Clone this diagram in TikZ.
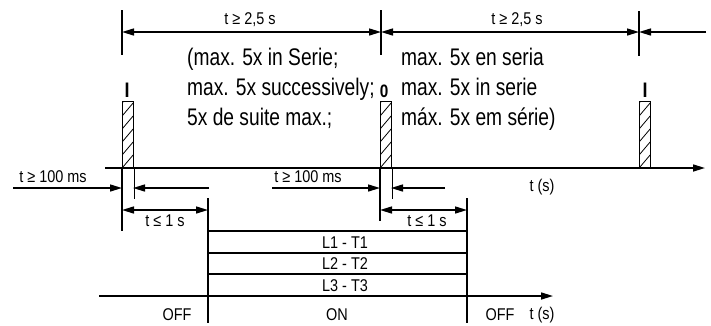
\documentclass[tikz,border=0pt]{standalone}
\usepackage{fontspec}
\setmainfont{Liberation Sans}[FakeStretch=0.8]
\newfontfamily\smallfont{Liberation Sans}[FakeStretch=0.85]
\usetikzlibrary{arrows.meta}
\tikzset{
  ln/.style={line width=1.6pt},
  tip/.tip={Triangle[length=12pt,width=7pt]},
  dimline/.style={line width=1.5pt,tip-tip},
  toarrow/.style={line width=1.5pt,-tip},
  small/.style={font=\smallfont\fontsize{17}{19}\selectfont, inner sep=0pt},
  big/.style={font=\fontsize{24}{30}\selectfont, inner sep=0pt, anchor=base west},
  lbl/.style={font=\smallfont\bfseries\fontsize{21}{22}\selectfont, inner sep=0pt},
  bar/.style={draw, line width=1.4pt, minimum width=11pt, minimum height=66pt,
    inner sep=0pt, anchor=south west,
    path picture={\foreach \k in {-1,...,6}{
      \draw[line width=0.8pt] ([yshift=\k*13pt]path picture bounding box.south west) -- ++(11pt,13pt);}}}
}
\begin{document}
\begin{tikzpicture}[x=1pt,y=-1pt]
\useasboundingbox (0,0) rectangle (711,325);
% ticks
\coordinate (t1a) at (122,10); \coordinate (t1b) at (122,55);
\coordinate (t2a) at (381,10); \coordinate (t2b) at (381,55);
\coordinate (t3a) at (639,11); \coordinate (t3b) at (639,56);
\draw[ln] (t1a) -- (t1b);
\draw[ln] (t2a) -- (t2b);
\draw[ln] (t3a) -- (t3b);
\coordinate (d1) at (122,32); \coordinate (d2) at (381,32); \coordinate (d3) at (639,32); \coordinate (d4) at (706,32);
\draw[dimline] (d1) -- (d2);
\draw[dimline] (d2) -- (d3);
\draw[toarrow] (d4) -- (d3);
\node[small] (tg1) at (250,20) {t ≥ 2,5 s};
\node[small] (tg2) at (517,20) {t ≥ 2,5 s};
% texts
\node[big] (l1) at (187,65) {(max. 5x in Serie;};
\node[big] (l2) at (187,95) {max. 5x successively;};
\node[big] (l3) at (187,125) {5x de suite max.;};
\node[big] (r1) at (401,65) {max. 5x en seria};
\node[big] (r2) at (401,95) {max. 5x in serie};
\node[big] (r3) at (401,125) {máx. 5x em série)};
% labels
\node[lbl] (i1) at (127,90) {I};
\node[lbl,font=\smallfont\bfseries\fontsize{18}{20}\selectfont] (o1) at (384,91) {0};
\node[lbl] (i2) at (645,90) {I};
% bars
\node[bar] (b1) at (122,168) {};
\node[bar] (b2) at (380,168) {};
\node[bar] (b3) at (639,168) {};
% time axis
\coordinate (ax0) at (105,168); \coordinate (ax1) at (705,168);
\draw[ln,-tip] (ax0) -- (ax1);
\node[small] (ts1) at (542,187) {t (s)};
% lines below bars
\draw[ln] (b1.south west) -- ++(0,63);
\draw[ln] (b1.south east) -- ++(0,31);
\draw[ln] (b2.south west) -- ++(0,53);
\draw[ln] (b2.south east) -- ++(0,31);
% t >= 100 ms
\node[small] (m1) at (53,177) {t ≥ 100 ms};
\node[small] (m2) at (308,177) {t ≥ 100 ms};
\coordinate (a1) at (13,188); \coordinate (a2) at (122,188);
\coordinate (a3) at (209,188); \coordinate (a4) at (133,188);
\coordinate (a5) at (272,188); \coordinate (a6) at (380,188);
\coordinate (a7) at (445,188); \coordinate (a8) at (391,188);
\draw[toarrow] (a1) -- (a2);
\draw[toarrow] (a3) -- (a4);
\draw[toarrow] (a5) -- (a6);
\draw[toarrow] (a7) -- (a8);
% t <= 1 s
\coordinate (s1) at (122,210); \coordinate (s2) at (208,210);
\coordinate (s3) at (380,210); \coordinate (s4) at (467,210);
\draw[dimline] (s1) -- (s2);
\draw[dimline] (s3) -- (s4);
\node[small] (le1) at (165,221) {t ≤ 1 s};
\node[small] (le2) at (427,221) {t ≤ 1 s};
% ON block
\coordinate (v1a) at (208,198); \coordinate (v1b) at (208,323);
\coordinate (v2a) at (467,198); \coordinate (v2b) at (467,323);
\draw[ln] (v1a) -- (v1b);
\draw[ln] (v2a) -- (v2b);
\foreach \yy/\nm in {231/h1,253/h2,274/h3}{
  \coordinate (\nm a) at (208,\yy); \coordinate (\nm b) at (467,\yy);
  \draw[ln] (\nm a) -- (\nm b);
}
\coordinate (ox0) at (99,296); \coordinate (ox1) at (553,296);
\draw[ln,-tip] (ox0) -- (ox1);
\node[small] (p1) at (345,243) {L1 - T1};
\node[small] (p2) at (345,264) {L2 - T2};
\node[small] (p3) at (345,286) {L3 - T3};
\node[small] (off1) at (177,315) {OFF};
\node[small] (on) at (337,315) {ON};
\node[small] (off2) at (500,315) {OFF};
\node[small] (ts2) at (542,315) {t (s)};
\end{tikzpicture}
\end{document}
